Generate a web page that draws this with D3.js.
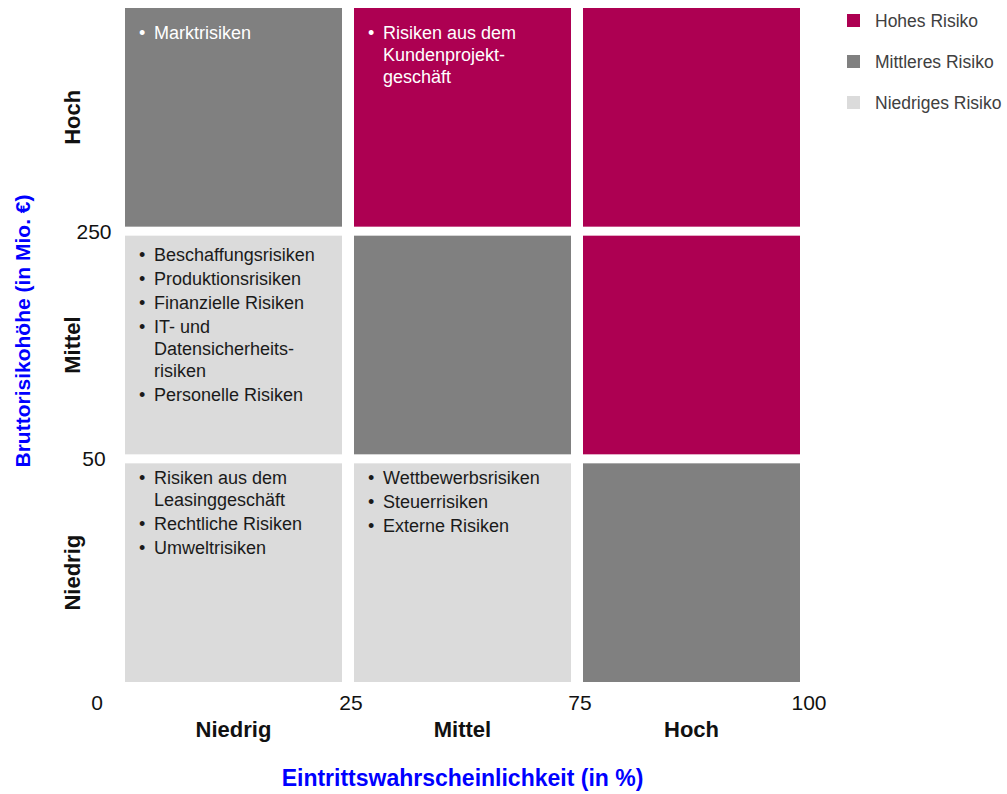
<!DOCTYPE html>
<html>
<head>
<meta charset="utf-8">
<script src="https://cdn.jsdelivr.net/npm/d3@7"></script>
<style>
  body { margin: 0; background: #fff; }
  text { font-family: "Liberation Sans", Arial, sans-serif; }
</style>
</head>
<body>
<div id="chart"></div>
<script>
  'use strict';

  // Kategorien
  var probCats = ['Niedrig', 'Mittel', 'Hoch'];      // x, Eintrittswahrscheinlichkeit
  var impactCats = ['Hoch', 'Mittel', 'Niedrig'];    // y, von oben nach unten
  var xTickLabels = ['0', '25', '75', '100'];
  var yTickLabels = ['0', '50', '250'];
  var riskLevels = ['Hohes Risiko', 'Mittleres Risiko', 'Niedriges Risiko'];
  var riskColors = ['#ad0052', '#808080', '#dbdbdb'];

  // Matrixzellen: Wahrscheinlichkeit, Höhe, Risikostufe
  var cellProb   = ['Niedrig', 'Mittel', 'Hoch', 'Niedrig', 'Mittel', 'Hoch', 'Niedrig', 'Mittel', 'Hoch'];
  var cellImpact = ['Hoch', 'Hoch', 'Hoch', 'Mittel', 'Mittel', 'Mittel', 'Niedrig', 'Niedrig', 'Niedrig'];
  var cellLevel  = ['Mittleres Risiko', 'Hohes Risiko', 'Hohes Risiko',
                    'Niedriges Risiko', 'Mittleres Risiko', 'Hohes Risiko',
                    'Niedriges Risiko', 'Niedriges Risiko', 'Mittleres Risiko'];
  // Aufzählung je Zelle (jeder Punkt = Liste seiner Zeilen)
  var cellItems = [
    [['Marktrisiken']],
    [['Risiken aus dem', 'Kundenprojekt-', 'geschäft']],
    [],
    [['Beschaffungsrisiken'], ['Produktionsrisiken'], ['Finanzielle Risiken'],
     ['IT- und', 'Datensicherheits-', 'risiken'], ['Personelle Risiken']],
    [],
    [],
    [['Risiken aus dem', 'Leasinggeschäft'], ['Rechtliche Risiken'], ['Umweltrisiken']],
    [['Wettbewerbsrisiken'], ['Steuerrisiken'], ['Externe Risiken']],
    []
  ];

  var width = 1007, height = 794;
  var svg = d3.select('#chart').append('svg')
    .attr('width', width)
    .attr('height', height);

  var x = d3.scaleBand().domain(probCats).range([125, 800]).paddingInner(12 / 229);
  var y = d3.scaleBand().domain(impactCats).range([8, 682]).paddingInner(9 / 227.7);
  var color = d3.scaleOrdinal().domain(riskLevels).range(riskColors);

  var gapX = x.step() - x.bandwidth(), gapY = y.step() - y.bandwidth();
  // Tick-Positionen liegen auf den Grenzen zwischen den Bändern
  var xTick = d3.scalePoint().domain(xTickLabels)
    .range([x.range()[0] - gapX / 2, x.range()[1] + gapX / 2]);
  var yTick = d3.scalePoint().domain(yTickLabels.concat(['']))
    .range([y.range()[1] + gapY / 2, y.range()[0] - gapY / 2]);

  var cells = cellProb.map(function(p, i) {
    return { prob: p, impact: cellImpact[i], level: cellLevel[i], items: cellItems[i] };
  });

  var cellG = svg.selectAll('g.cell').data(cells).enter().append('g')
    .attr('class', 'cell')
    .attr('transform', function(d) { return 'translate(' + x(d.prob) + ',' + y(d.impact) + ')'; });

  cellG.append('rect')
    .attr('width', x.bandwidth())
    .attr('height', y.bandwidth())
    .attr('fill', function(d) { return color(d.level); });

  // erste Grundlinie je Zeile, wie im Original leicht unterschiedlich
  var firstLine = { 'Hoch': 31, 'Mittel': 25, 'Niedrig': 21 };

  cellG.each(function(d) {
    var g = d3.select(this);
    var fill = d.level === 'Niedriges Risiko' ? '#1a1a1a' : '#ffffff';
    var yy = firstLine[d.impact];
    d.items.forEach(function(lines, k) {
      if (k > 0) yy += 24;
      g.append('text').attr('x', 14).attr('y', yy)
        .attr('font-size', 18).attr('fill', fill).text('•');
      lines.forEach(function(line, j) {
        if (j > 0) yy += 22;
        g.append('text').attr('x', 29).attr('y', yy)
          .attr('font-size', 18).attr('fill', fill).text(line);
      });
    });
  });

  // Tick-Beschriftungen
  svg.selectAll('text.xtick').data(xTickLabels.slice(1)).enter().append('text')
    .attr('class', 'xtick')
    .attr('x', function(d) { return xTick(d) + 3; })
    .attr('y', 710)
    .attr('text-anchor', 'middle')
    .attr('font-size', 21)
    .attr('fill', '#111')
    .text(function(d) { return d; });

  svg.selectAll('text.ytick').data(yTickLabels.slice(1)).enter().append('text')
    .attr('class', 'ytick')
    .attr('x', 94)
    .attr('y', function(d) { return yTick(d) + 7.5; })
    .attr('text-anchor', 'middle')
    .attr('font-size', 21)
    .attr('fill', '#111')
    .text(function(d) { return d; });

  // gemeinsamer Nullpunkt
  svg.append('text')
    .attr('x', 97).attr('y', 710)
    .attr('text-anchor', 'middle')
    .attr('font-size', 21)
    .attr('fill', '#111')
    .text(xTickLabels[0]);

  // Kategorienamen
  svg.selectAll('text.xcat').data(probCats).enter().append('text')
    .attr('class', 'xcat')
    .attr('x', function(d) { return x(d) + x.bandwidth() / 2; })
    .attr('y', 737)
    .attr('text-anchor', 'middle')
    .attr('font-size', 22)
    .attr('font-weight', 'bold')
    .attr('fill', '#111')
    .text(function(d) { return d; });

  svg.selectAll('text.ycat').data(impactCats).enter().append('text')
    .attr('class', 'ycat')
    .attr('transform', function(d) {
      return 'translate(80,' + (y(d) + y.bandwidth() / 2) + ') rotate(-90)';
    })
    .attr('text-anchor', 'middle')
    .attr('font-size', 22)
    .attr('font-weight', 'bold')
    .attr('fill', '#111')
    .text(function(d) { return d; });

  // Achsentitel
  svg.append('text')
    .attr('x', (x.range()[0] + x.range()[1]) / 2)
    .attr('y', 786)
    .attr('text-anchor', 'middle')
    .attr('font-size', 23)
    .attr('font-weight', 'bold')
    .attr('fill', '#0000ff')
    .text('Eintrittswahrscheinlichkeit (in %)');

  svg.append('text')
    .attr('transform', 'translate(30,331) rotate(-90)')
    .attr('text-anchor', 'middle')
    .attr('font-size', 21)
    .attr('font-weight', 'bold')
    .attr('fill', '#0000ff')
    .text('Bruttorisikohöhe (in Mio. €)');

  // Legende
  var legend = svg.selectAll('g.legend').data(riskLevels).enter().append('g')
    .attr('class', 'legend')
    .attr('transform', function(d, i) { return 'translate(847,' + (14 + i * 41) + ')'; });

  legend.append('rect')
    .attr('width', 13).attr('height', 13)
    .attr('fill', function(d) { return color(d); });

  legend.append('text')
    .attr('x', 28).attr('y', 12.5)
    .attr('font-size', 17.5)
    .attr('fill', '#404040')
    .text(function(d) { return d; });
</script>
</body>
</html>
